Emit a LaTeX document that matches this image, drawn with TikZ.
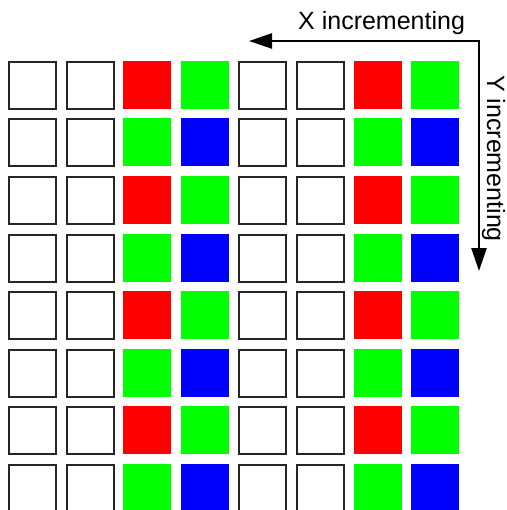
\documentclass[tikz,border=0pt]{standalone}
\usepackage{fontspec}
\setmainfont{Liberation Sans}
\usetikzlibrary{arrows.meta}
\definecolor{cred}{RGB}{255,0,0}
\definecolor{cgreen}{RGB}{0,255,0}
\definecolor{cblue}{RGB}{0,0,255}
\tikzset{
  cell/.style={rectangle, minimum width=48pt, minimum height=48pt, inner sep=0pt, outer sep=0pt, anchor=north west},
  blank/.style={cell, draw=black!85, line width=2pt, fill=white, minimum width=47pt, minimum height=47pt},
  rcell/.style={cell, fill=cred},
  gcell/.style={cell, fill=cgreen},
  bcell/.style={cell, fill=cblue},
  axis/.style={line width=2.5pt, arrows={Triangle[length=23pt,width=15pt]-Triangle[length=23pt,width=15pt]}},
  lbl/.style={font=\fontsize{25}{30}\selectfont, inner sep=0pt}
}
\begin{document}
\begin{tikzpicture}[x=1pt,y=-1pt]
\useasboundingbox (0,0) rectangle (506,510);
\begin{scope}
\clip (0,0) rectangle (506,510);
\foreach \j in {0,...,7}{
  \pgfmathsetmacro{\yy}{61+57.5*\j}
  \pgfmathtruncatemacro{\odd}{mod(\j,2)}
  \foreach \i in {0,1,4,5}{
    \pgfmathsetmacro{\xx}{8+57.6*\i}
    \node[blank] (c\i\j) at (\xx+1,\yy+1) {};
  }
  \foreach \i in {2,6}{
    \pgfmathsetmacro{\xx}{8+57.6*\i}
    \pgfmathsetmacro{\xb}{8+57.6*(\i+1)}
    \pgfmathtruncatemacro{\ii}{\i+1}
    \ifnum\odd=0
      \node[rcell] (c\i\j) at (\xx,\yy) {};
      \node[gcell] (c\ii\j) at (\xb,\yy) {};
    \else
      \node[gcell] (c\i\j) at (\xx,\yy) {};
      \node[bcell] (c\ii\j) at (\xb,\yy) {};
    \fi
  }
}
\end{scope}
\coordinate (corner) at (479,41);
\coordinate (xtip) at (249,41);
\coordinate (ytip) at (479,271);
\draw[axis] (xtip) -- (corner) -- (ytip);
\node[lbl, anchor=base west] (xl) at (298,29.5) {X incrementing};
\node[lbl, anchor=base west, rotate=-90] (yl) at (487,75) {Y incrementing};
\end{tikzpicture}
\end{document}
